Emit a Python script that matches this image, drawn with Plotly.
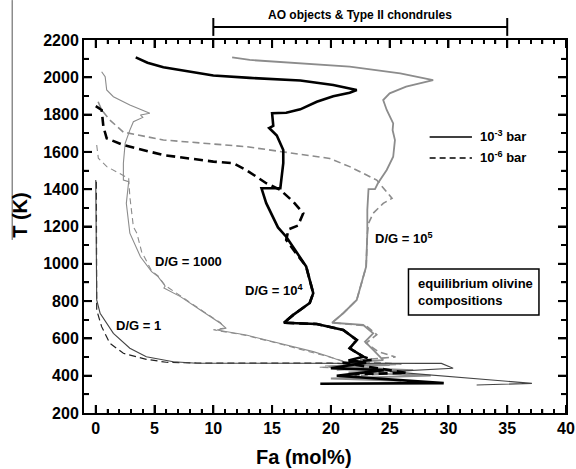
import plotly.graph_objects as go

# ---------------- data (Fa in mol%, T in K) ----------------
# D/G = 10^4, 10^-3 bar (thick black solid)
dg4_p3_fa = [3.4, 4.4, 5.75, 10.0, 13.1, 17.4, 20.2, 22.2, 21.6, 20.2, 18.8, 17.4, 16.2, 15.0, 15.1, 14.75, 15.4,
             15.7, 15.95, 15.95, 15.8, 15.7, 14.1, 14.5, 15.5, 16.2, 17.0, 17.9, 18.5, 18.2, 16.8, 16.0, 18.8,
             21.05, 22.2, 21.6, 22.75, 21.5, 23.0, 20.0, 24.5, 20.5, 29.6, 19.1]
dg4_p3_T = [2107, 2078, 2054, 2010, 1997, 1983, 1959, 1932, 1917, 1898, 1869, 1828, 1810, 1807, 1740, 1728, 1688,
            1640, 1610, 1540, 1450, 1405, 1405, 1325, 1195, 1145, 1070, 985, 842, 790, 726, 684, 677,
            645, 591, 547, 502, 482, 470, 440, 430, 400, 360, 357]

# D/G = 10^4, 10^-6 bar (thick black dashed)
dg4_p6_fa = [0.0, 0.5, 0.65, 0.93, 2.35, 5.75, 10.0, 11.7, 12.8, 14.5, 15.7, 16.8, 17.65, 17.2, 16.4, 16.2,
             17.0, 17.9, 18.5, 18.2, 16.8, 16.0, 18.8, 21.05, 22.2, 21.6, 22.75, 23.5, 21.0, 26.4, 22.0]
dg4_p6_T = [1845, 1825, 1735, 1673, 1637, 1583, 1548, 1539, 1503, 1432, 1396, 1333, 1271, 1205, 1185, 1128,
            1060, 985, 842, 790, 726, 684, 677, 645, 591, 547, 502, 485, 470, 415, 408]

# D/G = 10^5, 10^-3 bar (grey solid)
dg5_p3_fa = [11.6, 13.1, 21.6, 25.9, 28.7, 26.4, 25.0, 24.45, 24.75, 25.3, 25.25, 25.45, 25.3, 24.75, 24.0,
             23.75, 23.2, 23.1, 23.1, 23.0, 22.2, 21.05, 20.1, 22.75, 23.6, 22.9, 23.6, 24.45, 21.0, 25.0,
             19.8, 27.0, 21.5, 28.5, 20.0, 26.0]
dg5_p3_T = [2107, 2093, 2057, 2021, 1985, 1950, 1914, 1878, 1825, 1753, 1717, 1664, 1574, 1503, 1432,
            1400, 1400, 1289, 1163, 985, 806, 735, 684, 672, 627, 582, 538, 484, 470, 457,
            447, 430, 418, 400, 385, 372]

# D/G = 10^5, 10^-6 bar (grey dashed)
dg5_p6_fa = [0.2, 0.5, 1.2, 2.35, 5.75, 12.8, 19.9, 21.6, 23.9, 25.2, 24.45, 23.6, 23.2, 23.1, 23.1, 23.0,
             22.2, 21.05, 20.1, 23.0, 23.9, 23.0, 24.0, 25.5, 21.5, 26.0, 22.0, 24.5, 20.5]
dg5_p6_T = [1869, 1825, 1771, 1706, 1664, 1628, 1565, 1521, 1449, 1351, 1324, 1271, 1217, 1180, 1160, 985,
            806, 735, 684, 668, 620, 575, 530, 500, 480, 462, 450, 408, 395]

# D/G = 1000, 10^-3 bar (thin grey solid)
dg3_p3_fa = [0.5, 0.8, 0.93, 1.5, 2.9, 3.9, 4.6, 3.8, 4.0, 3.2, 2.9, 2.5, 2.35, 2.35, 2.8, 2.6, 2.9, 2.9,
             3.8, 4.75, 5.3, 5.9, 5.8, 7.2, 8.9, 10.6, 11.1, 10.3, 12.8, 15.7, 18.5, 19.9, 21.05, 23.5,
             19.5, 24.5, 20.5]
dg3_p3_T = [2030, 2003, 1932, 1896, 1851, 1825, 1807, 1798, 1785, 1762, 1717, 1646, 1539, 1449, 1440, 1324,
            1181, 1164, 1038, 958, 931, 881, 870, 824, 752, 681, 654, 645, 618, 574, 529, 502, 475, 462,
            452, 440, 430]

# D/G = 1000, 10^-6 bar (thin grey dashed)
dg3_p6_fa = [0.08, 0.22, 0.94, 2.07, 2.8, 2.9, 3.2, 3.5, 3.9, 4.75, 5.3, 5.9, 7.2, 8.9, 10.6, 11.0, 10.0,
             12.8, 15.7, 18.5, 20.0, 21.5, 23.0, 19.0, 24.0]
dg3_p6_T = [1637, 1566, 1521, 1485, 1458, 1360, 1199, 1164, 1065, 962, 935, 884, 826, 755, 684, 656, 646,
            616, 570, 525, 498, 470, 455, 445, 435]

# D/G = 1, 10^-3 bar (thin dark solid)
dg0_p3_fa = [0.0, 0.05, 0.08, 0.08, 0.37, 1.5, 2.9, 4.3, 6.6, 8.6, 29.4, 30.4, 25.0, 35.5, 37.1, 32.4]
dg0_p3_T = [1449, 1181, 1000, 806, 735, 627, 547, 502, 475, 467, 466, 440, 422, 366, 359, 350]

# D/G = 1, 10^-6 bar (thin dark dashed)
dg0_p6_fa = [0.05, 0.08, 0.08, 0.5, 1.2, 2.35, 4.3, 6.0, 8.6, 20.0, 22.0]
dg0_p6_T = [1440, 1000, 752, 663, 574, 520, 488, 472, 468, 467, 462]

# axis ticks (major) and minor spacing
x_ticks = [0, 5, 10, 15, 20, 25, 30, 35, 40]
y_ticks = [200, 400, 600, 800, 1000, 1200, 1400, 1600, 1800, 2000, 2200]
x_minor_step = 1
y_minor_step = 100
x_min = -1

FONT = "Liberation Sans, Arial, sans-serif"
GREY = "#8c8c8c"

fig = go.Figure()

def add(fa, T, color, width, dash="solid"):
    fig.add_trace(go.Scatter(x=fa, y=T, mode="lines",
                             line=dict(color=color, width=width, dash=dash),
                             hoverinfo="skip", showlegend=False))

add(dg3_p6_fa, dg3_p6_T, GREY, 1.1, "6px,4px")
add(dg3_p3_fa, dg3_p3_T, GREY, 1.1)
add(dg5_p6_fa, dg5_p6_T, GREY, 1.6, "7px,4px")
add(dg5_p3_fa, dg5_p3_T, GREY, 1.8)
add(dg0_p6_fa, dg0_p6_T, "#222222", 1.2, "7px,4px")
add(dg0_p3_fa, dg0_p3_T, "#444444", 1.1)
add(dg4_p6_fa, dg4_p6_T, "black", 2.6, "9px,5px")
add(dg4_p3_fa, dg4_p3_T, "black", 2.6)

tickfont = dict(family=FONT, size=16, color="black", weight="bold")

fig.update_layout(
    template="none",
    width=576, height=469, margin=dict(l=84, r=10, t=40, b=56),
    showlegend=False,
    font=dict(family=FONT, color="black"),
    xaxis=dict(range=[x_min, x_ticks[-1]], tick0=x_ticks[0], dtick=x_ticks[1] - x_ticks[0],
               ticks="inside", ticklen=8, tickwidth=2, tickcolor="black",
               showline=True, linecolor="black", linewidth=2, mirror="ticks",
               showgrid=False, zeroline=False, tickfont=tickfont,
               minor=dict(dtick=x_minor_step, ticks="inside", ticklen=4)),
    yaxis=dict(range=[y_ticks[0], y_ticks[-1]], tick0=y_ticks[0], dtick=y_ticks[1] - y_ticks[0],
               ticks="inside", ticklen=8, tickwidth=2, tickcolor="black",
               showline=True, linecolor="black", linewidth=2, mirror="ticks",
               showgrid=False, zeroline=False, tickfont=tickfont,
               minor=dict(dtick=y_minor_step, ticks="inside", ticklen=5)),
)

shapes = []

# tick marks on all four sides (pixel-sized shapes anchored on the axes)
def xtick(v, length, width):
    for anchor, sign in ((0, 1), (1, -1)):
        shapes.append(dict(type="line", layer="above", xref="x", x0=v, x1=v, yref="paper",
                           ysizemode="pixel", yanchor=anchor, y0=0, y1=sign * length,
                           line=dict(color="black", width=width)))

def ytick(v, length, width):
    for anchor, sign in ((0, 1), (1, -1)):
        shapes.append(dict(type="line", layer="above", yref="y", y0=v, y1=v, xref="paper",
                           xsizemode="pixel", xanchor=anchor, x0=0, x1=sign * length,
                           line=dict(color="black", width=width)))

xv = x_min
while xv <= x_ticks[-1]:
    if xv in x_ticks:
        xtick(xv, 8, 2)
    elif x_min < xv < x_ticks[-1]:
        xtick(xv, 4, 1.5)
    xv += x_minor_step
yv = y_ticks[0]
while yv <= y_ticks[-1]:
    if yv in y_ticks:
        if y_ticks[0] < yv < y_ticks[-1]:
            ytick(yv, 8, 2)
    else:
        ytick(yv, 5, 1.5)
    yv += y_minor_step

# top bracket
shapes.append(dict(type="line", xref="x", yref="paper", x0=10, x1=35, y0=1.035, y1=1.035,
                   line=dict(color="black", width=2)))
for bx in (10, 35):
    shapes.append(dict(type="line", xref="x", yref="paper", x0=bx, x1=bx, y0=1.011, y1=1.059,
                       line=dict(color="black", width=2)))
# legend samples
shapes.append(dict(type="line", xref="x", yref="y", x0=28.4, x1=32.0, y0=1680, y1=1680,
                   line=dict(color="black", width=1.5)))
shapes.append(dict(type="line", xref="x", yref="y", x0=28.4, x1=32.0, y0=1567, y1=1567,
                   line=dict(color="black", width=1.5, dash="6px,4px")))
# box
shapes.append(dict(type="rect", xref="x", yref="y", x0=26.6, x1=37.7, y0=726, y1=972,
                   line=dict(color="black", width=1.5), fillcolor="rgba(0,0,0,0)"))
# scan edge line at far left
shapes.append(dict(type="line", xref="paper", yref="paper", x0=-0.149, x1=-0.149, y0=0.464, y1=1.107,
                   line=dict(color="#555555", width=1)))

def ann(text, x, y, size=13, xref="x", yref="y", xanchor="center", angle=0, align="center"):
    return dict(text="<b>%s</b>" % text, x=x, y=y, xref=xref, yref=yref, showarrow=False,
                xanchor=xanchor, yanchor="middle", textangle=angle, align=align,
                font=dict(family=FONT, size=size, color="black"))

annotations = [
    ann("AO objects &amp; Type II chondrules", 22.5, 1.067, size=12, yref="paper"),
    ann("D/G = 1000", 7.9, 1010),
    ann("D/G = 1", 3.6, 667),
    ann("D/G = 10<sup>4</sup>", 15.2, 858),
    ann("D/G = 10<sup>5</sup>", 26.2, 1137),
    ann("equilibrium olivine<br>compositions", 27.2, 849, xanchor="left", align="left"),
    ann("10<sup>-3</sup> bar", 32.5, 1686, xanchor="left"),
    ann("10<sup>-6</sup> bar", 32.5, 1573, xanchor="left"),
    ann("Fa (mol%)", 0.456, -0.118, size=20, xref="paper", yref="paper"),
    ann("T (K)", -0.133, 0.531, size=20, xref="paper", yref="paper", angle=-90),
]

fig.update_layout(shapes=shapes, annotations=annotations)

fig.write_html("out.html")
